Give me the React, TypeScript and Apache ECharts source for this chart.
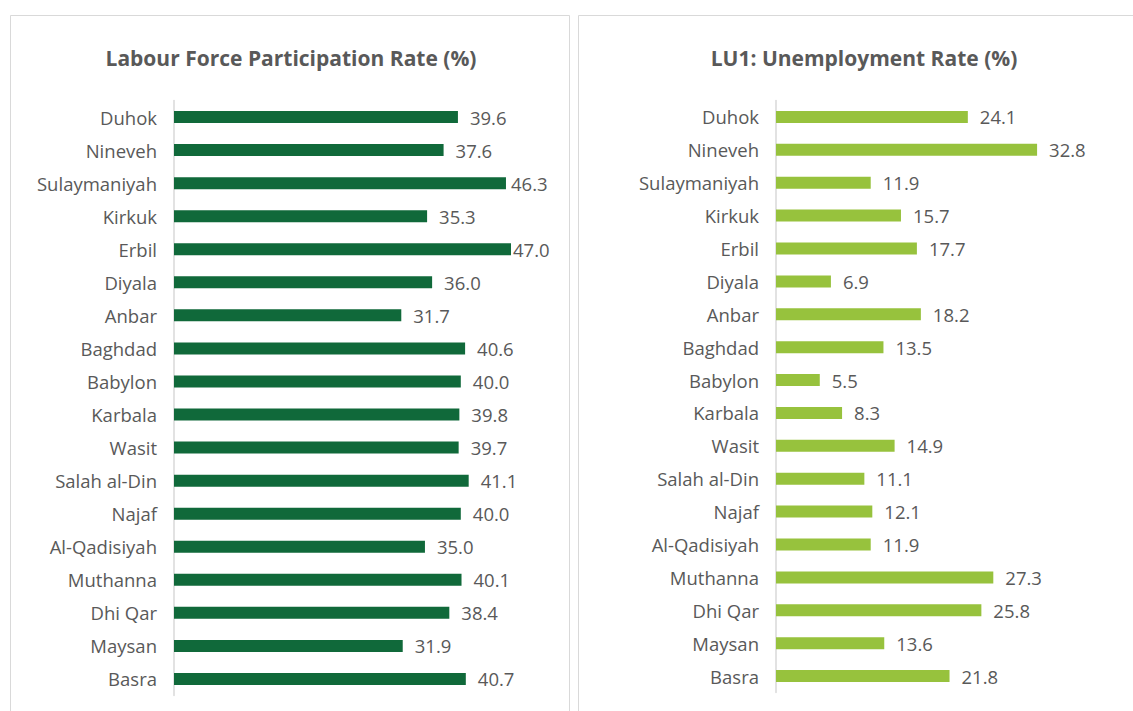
import React, { useEffect, useRef } from "react";
import * as echarts from "echarts";

const categories = [
  "Duhok", "Nineveh", "Sulaymaniyah", "Kirkuk", "Erbil", "Diyala", "Anbar", "Baghdad", "Babylon",
  "Karbala", "Wasit", "Salah al-Din", "Najaf", "Al-Qadisiyah", "Muthanna", "Dhi Qar", "Maysan", "Basra",
];
const participationRate = [39.6, 37.6, 46.3, 35.3, 47.0, 36.0, 31.7, 40.6, 40.0, 39.8, 39.7, 41.1, 40.0, 35.0, 40.1, 38.4, 31.9, 40.7];
const unemploymentRate = [24.1, 32.8, 11.9, 15.7, 17.7, 6.9, 18.2, 13.5, 5.5, 8.3, 14.9, 11.1, 12.1, 11.9, 27.3, 25.8, 13.6, 21.8];
const titles = ["Labour Force Participation Rate (%)", "LU1: Unemployment Rate (%)"];

// label distance overrides (labels squeezed near the plot edge in the original)
const leftLabelDistance: Record<string, number> = { Erbil: 2, Sulaymaniyah: 5 };

const FONT = "'Open Sans', 'Noto Sans', sans-serif";
const GRAY = "#595959";

export default function App() {
  const ref = useRef<HTMLDivElement>(null);
  useEffect(() => {
    const chart = echarts.init(ref.current!, null, { renderer: "svg" });
    const catAxis = (gridIndex: number) => ({
      type: "category",
      gridIndex,
      data: categories,
      inverse: true,
      axisLine: { show: true, lineStyle: { color: "#d9d9d9", width: 1.5 } },
      axisTick: { show: false },
      axisLabel: { color: GRAY, fontSize: 18.5, fontFamily: FONT, margin: 17 },
    });
    const valueLabel = {
      show: true,
      position: "right",
      distance: 12,
      color: GRAY,
      fontSize: 18.5,
      fontFamily: FONT,
      formatter: (p: any) => Number(p.value).toFixed(1),
    };
    const titleStyle = { color: GRAY, fontSize: 21, fontWeight: "bold", fontFamily: FONT };
    chart.setOption({
      animation: false,
      textStyle: { fontFamily: FONT },
      graphic: [
        { type: "rect", shape: { x: 10.5, y: 15.5, width: 559, height: 720 }, style: { fill: "none", stroke: "#d9d9d9", lineWidth: 1 } },
        { type: "rect", shape: { x: 578.5, y: 15.5, width: 570, height: 720 }, style: { fill: "none", stroke: "#d9d9d9", lineWidth: 1 } },
      ],
      title: [
        { text: titles[0], left: 286, top: 42, textAlign: "center", textStyle: titleStyle },
        { text: titles[1], left: 859, top: 42, textAlign: "center", textStyle: titleStyle },
      ],
      grid: [
        { left: 174, top: 100.5, width: 358.5, height: 595 },
        { left: 776, top: 100.5, width: 278.6, height: 592 },
      ],
      xAxis: [
        { type: "value", gridIndex: 0, min: 0, max: 50, show: false },
        { type: "value", gridIndex: 1, min: 0, max: 35, show: false },
      ],
      yAxis: [catAxis(0), catAxis(1)],
      series: [
        {
          type: "bar",
          xAxisIndex: 0,
          yAxisIndex: 0,
          barWidth: 12,
          itemStyle: { color: "#10693a" },
          label: valueLabel,
          data: participationRate.map((v, i) =>
            leftLabelDistance[categories[i]] !== undefined
              ? { value: v, label: { distance: leftLabelDistance[categories[i]] } }
              : v
          ),
        },
        {
          type: "bar",
          xAxisIndex: 1,
          yAxisIndex: 1,
          barWidth: 12,
          itemStyle: { color: "#97c23d" },
          label: valueLabel,
          data: unemploymentRate,
        },
      ],
    });
    return () => chart.dispose();
  }, []);
  return <div ref={ref} style={{ position: "fixed", left: 0, top: 0, width: 1133, height: 711, background: "#fff" }} />;
}
